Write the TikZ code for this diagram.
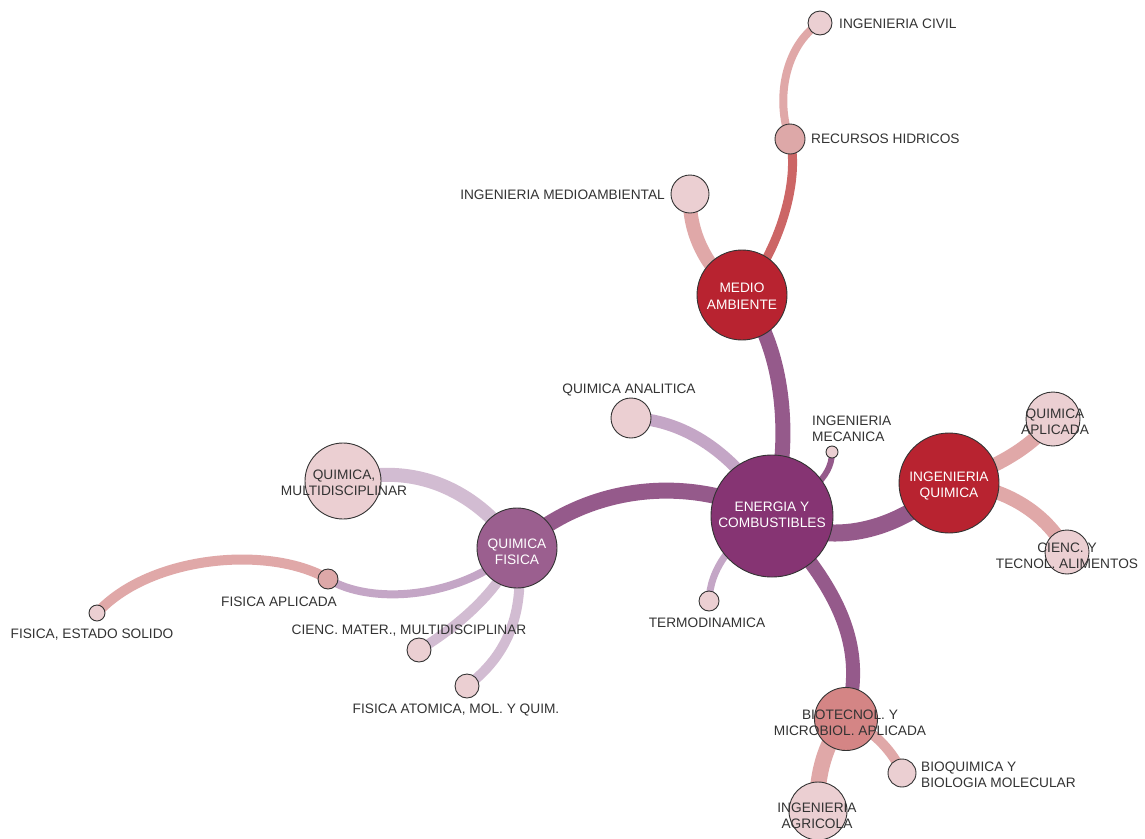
\documentclass[tikz,border=0pt]{standalone}
\usepackage{fontspec}
\setmainfont{Liberation Sans}
\pgfdeclarelayer{bg}
\pgfsetlayers{bg,main}
\definecolor{ecfill}{RGB}{134,52,115}
\definecolor{qffill}{RGB}{155,95,143}
\definecolor{redfill}{RGB}{184,35,48}
\definecolor{biofill}{RGB}{212,133,133}
\definecolor{midfill}{RGB}{221,168,168}
\definecolor{lightfill}{RGB}{235,207,210}
\definecolor{edgedark}{RGB}{149,90,139}
\definecolor{edgelp}{RGB}{196,166,198}
\definecolor{edgevlp}{RGB}{210,188,210}
\definecolor{edgepink}{RGB}{224,168,168}
\definecolor{edgered}{RGB}{204,102,102}
\definecolor{txt}{RGB}{51,51,51}
\tikzset{
  bub/.style={circle, draw=txt, line width=0.9pt, inner sep=0pt, align=center},
  lab/.style={text=txt, align=center, inner sep=0pt},
  wlab/.style={text=white, align=center, inner sep=0pt},
  con/.style={line cap=butt}
}
\begin{document}
\begin{tikzpicture}[x=1pt,y=-1pt,font=\fontsize{13.7}{16.5}\selectfont]
\useasboundingbox (0,0) rectangle (1145,838);
% nodes
\node[bub, fill=ecfill, minimum size=122pt] (ec) at (772,516) {};
\node[bub, fill=redfill, minimum size=90pt] (ma) at (742,295) {};
\node[bub, fill=redfill, minimum size=100pt] (iq) at (949,483) {};
\node[bub, fill=qffill, minimum size=80pt] (qf) at (517,548) {};
\node[bub, fill=lightfill, minimum size=54pt] (qap) at (1053,419) {};
\node[bub, fill=lightfill, minimum size=44pt] (cta) at (1067,552) {};
\node[bub, fill=lightfill, minimum size=76pt] (qm) at (343,481) {};
\node[bub, fill=midfill, minimum size=20pt] (fa) at (328,579) {};
\node[bub, fill=lightfill, minimum size=16pt] (fes) at (97,613) {};
\node[bub, fill=lightfill, minimum size=24pt] (cm) at (419,650) {};
\node[bub, fill=lightfill, minimum size=24pt] (fat) at (467,686) {};
\node[bub, fill=lightfill, minimum size=40pt] (qan) at (631,418) {};
\node[bub, fill=lightfill, minimum size=12pt] (im) at (832,452) {};
\node[bub, fill=lightfill, minimum size=20pt] (td) at (709,601) {};
\node[bub, fill=biofill, minimum size=63pt] (bio) at (846,719) {};
\node[bub, fill=lightfill, minimum size=28pt] (bq) at (902,773) {};
\node[bub, fill=lightfill, minimum size=58pt] (agr) at (818,811) {};
\node[bub, fill=lightfill, minimum size=38pt] (ima) at (690,194) {};
\node[bub, fill=midfill, minimum size=30pt] (rh) at (790,139) {};
\node[bub, fill=lightfill, minimum size=24pt] (ic) at (820,23) {};
% connectors
\begin{pgfonlayer}{bg}
\fill[white] (0,0) rectangle (1145,838);
\draw[con, edgedark, line width=15pt] (ma.center) .. controls (780,340) and (795,430) .. (ec.center);
\draw[con, edgedark, line width=16pt] (qf.center) .. controls (580,490) and (680,470) .. (ec.center);
\draw[con, edgedark, line width=17pt] (ec.center) .. controls (830,550) and (900,530) .. (iq.center);
\draw[con, edgedark, line width=14pt] (ec.center) .. controls (830,580) and (870,640) .. (bio.center);
\draw[con, edgelp, line width=12pt] (qan.center) .. controls (690,420) and (740,460) .. (ec.center);
\draw[con, edgedark, line width=6pt] (im.center) .. controls (832,480) and (805,495) .. (ec.center);
\draw[con, edgelp, line width=7pt] (td.center) .. controls (710,570) and (730,540) .. (ec.center);
\draw[con, edgevlp, line width=14pt] (qm.center) .. controls (420,460) and (480,495) .. (qf.center);
\draw[con, edgelp, line width=8pt] (fa.center) .. controls (370,605) and (460,600) .. (qf.center);
\draw[con, edgepink, line width=10pt] (fes.center) .. controls (150,555) and (270,545) .. (fa.center);
\draw[con, edgevlp, line width=10pt] (qf.center) .. controls (500,590) and (460,625) .. (cm.center);
\draw[con, edgevlp, line width=10pt] (qf.center) .. controls (525,600) and (515,650) .. (fat.center);
\draw[con, edgepink, line width=14pt] (iq.center) .. controls (990,470) and (1030,450) .. (qap.center);
\draw[con, edgepink, line width=14pt] (iq.center) .. controls (1000,485) and (1045,510) .. (cta.center);
\draw[con, edgepink, line width=16pt] (bio.center) .. controls (825,740) and (815,780) .. (agr.center);
\draw[con, edgepink, line width=10pt] (bio.center) .. controls (875,730) and (895,755) .. (bq.center);
\draw[con, edgepink, line width=14pt] (ma.center) .. controls (705,270) and (688,230) .. (ima.center);
\draw[con, edgered, line width=9pt] (ma.center) .. controls (780,250) and (800,180) .. (rh.center);
\draw[con, edgepink, line width=8pt] (rh.center) .. controls (775,100) and (785,45) .. (ic.center);
\end{pgfonlayer}
% labels inside big circles
\node[wlab] (ec-l) at (772,515) {ENERGIA Y\\COMBUSTIBLES};
\node[wlab] (ma-l) at (742,296) {MEDIO\\AMBIENTE};
\node[wlab] (iq-l) at (949,486) {INGENIERIA\\QUIMICA};
\node[wlab] (qf-l) at (517,552) {QUIMICA\\FISICA};
% labels
\node[lab, anchor=west] (ic-l) at (839,24) {INGENIERIA CIVIL};
\node[lab, anchor=west] (rh-l) at (811,139) {RECURSOS HIDRICOS};
\node[lab, anchor=east] (ima-l) at (665,195) {INGENIERIA MEDIOAMBIENTAL};
\node[lab] (qan-l) at (629,390) {QUIMICA ANALITICA};
\node[lab, align=left, anchor=west] (im-l) at (812,429) {INGENIERIA\\MECANICA};
\node[lab] (qap-l) at (1055,422) {QUIMICA\\APLICADA};
\node[lab] (cta-l) at (1067,556) {CIENC. Y\\TECNOL. ALIMENTOS};
\node[lab] (qm-l) at (344,483) {QUIMICA,\\MULTIDISCIPLINAR};
\node[lab] (fa-l) at (279,602) {FISICA APLICADA};
\node[lab] (fes-l) at (92,635) {FISICA, ESTADO SOLIDO};
\node[lab] (cm-l) at (409,631) {CIENC. MATER., MULTIDISCIPLINAR};
\node[lab] (fat-l) at (456,710) {FISICA ATOMICA, MOL. Y QUIM.};
\node[lab] (td-l) at (707,623) {TERMODINAMICA};
\node[lab] (bio-l) at (850,723) {BIOTECNOL. Y\\MICROBIOL. APLICADA};
\node[lab, align=left, anchor=west] (bq-l) at (921,775) {BIOQUIMICA Y\\BIOLOGIA MOLECULAR};
\node[lab] (agr-l) at (817,816) {INGENIERIA\\AGRICOLA};
\end{tikzpicture}
\end{document}
